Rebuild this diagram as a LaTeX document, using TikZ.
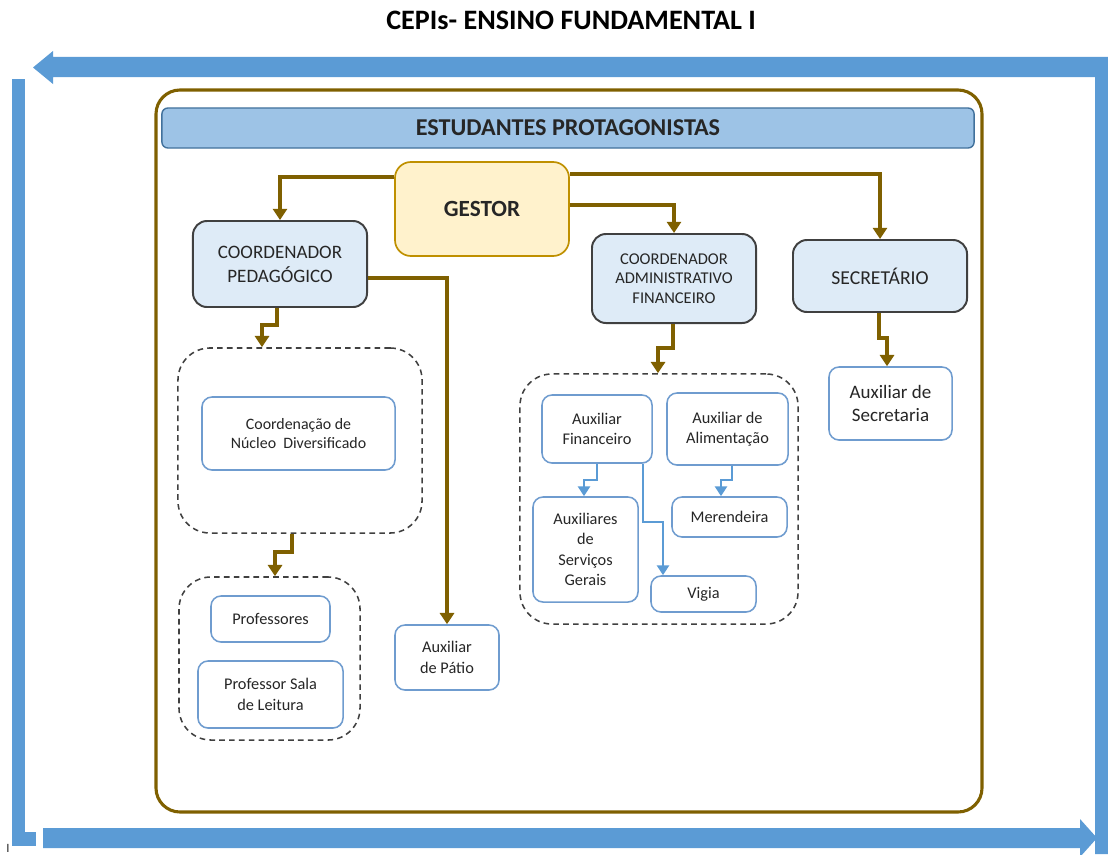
\documentclass[tikz,border=0pt]{standalone}
\usepackage{fontspec}
\setmainfont{Carlito}
\usetikzlibrary{arrows.meta}

\definecolor{frameBrown}{HTML}{7F6000}
\definecolor{arrowBlue}{HTML}{5B9BD5}
\definecolor{headFill}{HTML}{9DC3E6}
\definecolor{headLine}{HTML}{41719C}
\definecolor{bossFill}{HTML}{FFF2CC}
\definecolor{bossLine}{HTML}{BF9000}
\definecolor{coordFill}{HTML}{DEEBF7}
\definecolor{darkLine}{HTML}{404040}
\definecolor{leafLine}{HTML}{6F9CCF}
\definecolor{txt}{HTML}{262626}

\begin{document}
\begin{tikzpicture}[x=0.025cm, y=-0.025cm,
    >={Triangle[width=10pt,length=8pt]},
    band/.style={fill=arrowBlue},
    coord/.style={rectangle, rounded corners=0.35cm, draw=darkLine, fill=coordFill, line width=1.4pt, align=center, text=txt, inner sep=0pt},
    leaf/.style={rectangle, rounded corners=0.25cm, draw=leafLine, fill=white, line width=1.1pt, align=center, text=txt, inner sep=0pt, font=\fontsize{11.6}{14.5}\selectfont},
    group/.style={rectangle, rounded corners=0.8cm, draw=darkLine, dash pattern=on 4pt off 3pt, line width=1.1pt, inner sep=0pt},
    link/.style={draw=frameBrown, line width=2.4pt, ->},
    sublink/.style={draw=arrowBlue, line width=1.8pt, ->, >={Triangle[width=8.5pt,length=7pt]}},
    ]
    \useasboundingbox (0,0) rectangle (1108,854);

    % cycle arrows round the chart
    \fill[band] (1108,57) -- (53,57) -- (53,51) -- (33,67.5) -- (53,84) -- (53,77)
        -- (1095,77) -- (1095,854) -- (1108,854) -- cycle;
    \fill[band] (12,79) rectangle (25,846);
    \fill[band] (12,832) rectangle (36,846);
    \fill[band] (43,828) -- (1080,828) -- (1080,819) -- (1097,838) -- (1080,857)
        -- (1080,848) -- (43,848) -- cycle;
    \node[anchor=north, inner sep=0pt, font=\fontsize{9}{9}\selectfont, text=txt] (cursor) at (8,844) {I};

    \node[font=\bfseries\fontsize{20}{24}\selectfont] (title) at (571,20) {CEPIs- ENSINO FUNDAMENTAL I};

    \draw[frameBrown, line width=2.2pt, rounded corners=0.6cm] (156,90) rectangle (982,812);

    \node[rectangle, rounded corners=0.15cm, draw=headLine, fill=headFill, line width=1pt,
        minimum width=20.3cm, minimum height=1cm, inner sep=0pt, text=txt,
        font=\bfseries\fontsize{17.2}{20}\selectfont] (hdr) at (568,128) {ESTUDANTES PROTAGONISTAS};

    \node[rectangle, rounded corners=0.4cm, draw=bossLine, fill=bossFill, line width=1.2pt,
        minimum width=4.35cm, minimum height=2.35cm, inner sep=0pt, text=txt,
        font=\bfseries\fontsize{16.5}{20}\selectfont] (gestor) at (482,209) {GESTOR};

    \node[coord, minimum width=4.35cm, minimum height=2.15cm, font=\fontsize{13.5}{17}\selectfont] (cp) at (280,264) {COORDENADOR\\PEDAGÓGICO};
    \node[coord, minimum width=4.1cm, minimum height=2.225cm, font=\fontsize{11.7}{14}\selectfont] (caf) at (674,278.5) {COORDENADOR\\ADMINISTRATIVO\\FINANCEIRO};
    \node[coord, minimum width=4.35cm, minimum height=1.8cm, font=\fontsize{14}{16}\selectfont] (sec) at (880,276) {SECRETÁRIO};

    % dashed groups
    \node[group, minimum width=6.1cm, minimum height=4.625cm] (g1) at (300,440.5) {};
    \node[group, minimum width=4.525cm, minimum height=4.075cm] (g2) at (269.5,658.5) {};
    \node[group, minimum width=6.95cm, minimum height=6.25cm] (g3) at (659,499) {};

    \node[leaf, minimum width=4.825cm, minimum height=1.825cm, font=\fontsize{11.3}{13.5}\selectfont] (cnd) at (298.5,433.5) {Coordenação de\\Núcleo\ \ Diversificado};
    \node[leaf, minimum width=2.975cm, minimum height=1.15cm] (prof) at (270.5,619) {Professores};
    \node[leaf, minimum width=3.625cm, minimum height=1.675cm] (psl) at (270.5,694.5) {Professor Sala\\de Leitura};
    \node[leaf, minimum width=2.6cm, minimum height=1.625cm] (apat) at (447,657.5) {Auxiliar\\de Pátio};
    \node[leaf, minimum width=2.75cm, minimum height=1.7cm] (af) at (597,429) {Auxiliar\\Financeiro};
    \node[leaf, minimum width=3.025cm, minimum height=1.8cm] (aal) at (727.5,429) {Auxiliar de\\Alimentação};
    \node[leaf, minimum width=2.625cm, minimum height=2.625cm] (asg) at (585.5,549.5) {Auxiliares\\de\\Serviços\\Gerais};
    \node[leaf, minimum width=2.875cm, minimum height=1cm] (mer) at (729.5,517) {Merendeira};
    \node[leaf, minimum width=2.625cm, minimum height=0.9cm] (vig) at (703.5,594) {Vigia};
    \node[leaf, minimum width=3.075cm, minimum height=1.825cm, font=\fontsize{13.5}{16.5}\selectfont] (asec) at (890.5,403.5) {Auxiliar de\\Secretaria};

    \draw[link] (gestor.west |- 0,177) -| (cp.north);
    \draw[link] (gestor.east |- 0,174) -| (sec.north);
    \draw[link] (gestor.east |- 0,205) -| (caf.north);
    \draw[link] (cp.east |- 0,278) -| (apat.north);
    \draw[link] (cp.south -| 277,0) |- (262,325) -- (g1.north -| 262,0);
    \draw[link] (g1.south -| 292,0) |- (275,552) -- (g2.north -| 275,0);
    \draw[link] (caf.south -| 673,0) |- (658,348) -- (g3.north -| 658,0);
    \draw[link] (sec.south -| 879,0) |- (887,338) -- (asec.north -| 887,0);
    \draw[sublink] (af.south -| 597,0) |- (584,480) -- (asg.north -| 584,0);
    \draw[sublink] (af.south -| 643,0) |- (663,522) -- (vig.north -| 663,0);
    \draw[sublink] (aal.south -| 732,0) |- (721,480) -- (mer.north -| 721,0);
\end{tikzpicture}
\end{document}
